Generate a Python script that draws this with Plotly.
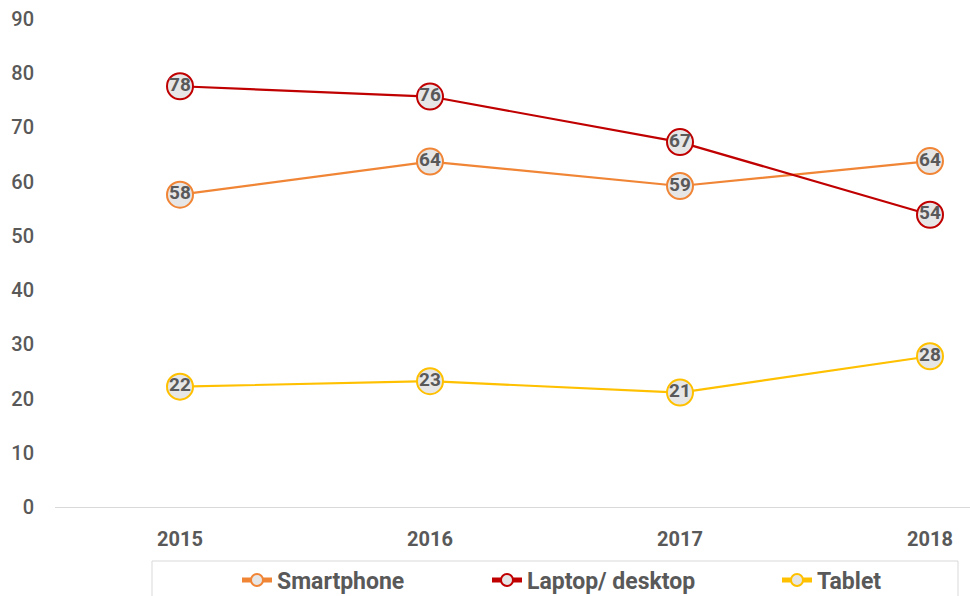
import plotly.graph_objects as go

years = ["2015", "2016", "2017", "2018"]
smartphone = [57.6, 63.7, 59.2, 63.8]
laptop = [77.6, 75.7, 67.3, 53.9]
tablet = [22.2, 23.2, 21.1, 27.8]
y_ticks = [0, 10, 20, 30, 40, 50, 60, 70, 80, 90]

series = [
    ("Smartphone", smartphone, "#F08536", "legend"),
    ("Laptop/ desktop", laptop, "#C00000", "legend2"),
    ("Tablet", tablet, "#FFC000", "legend3"),
]

TXT = "#595959"
FONT = "Roboto"

# layout geometry (px)
W, H = 970, 596
L, R, T, B = 55, 0, 19, 89
PW, PH = W - L - R, H - T - B

def px_x(p):
    return (p - L) / PW

def px_y(p):
    return (H - B - p) / PH

fig = go.Figure()
for name, vals, col, lg in series:
    fig.add_trace(go.Scatter(
        x=years, y=vals, name=name, mode="lines+markers",
        line=dict(color=col, width=2.2),
        marker=dict(size=26, color="#E7E6E6", line=dict(color=col, width=2)),
        legend=lg, cliponaxis=False,
    ))
for name, vals, col, lg in series:
    fig.add_trace(go.Scatter(
        x=years, y=vals, mode="text", showlegend=False,
        text=[f"{v:.0f}" for v in vals], textposition="middle center",
        textfont=dict(family=FONT, size=19, color=TXT, weight="bold"),
        cliponaxis=False, hoverinfo="skip",
    ))

leg_common = dict(orientation="h", yanchor="middle", xanchor="left",
                  bgcolor="rgba(0,0,0,0)", borderwidth=0, itemsizing="constant",
                  font=dict(family=FONT, size=23, color=TXT, weight="bold"))
legend_px = [237, 487, 777]
y_leg = px_y(580)

fig.update_layout(
    width=W, height=H,
    margin=dict(l=L, r=R, t=T, b=B, pad=0, autoexpand=False),
    paper_bgcolor="white", plot_bgcolor="white",
    showlegend=True,
    legend=dict(x=px_x(legend_px[0]), y=y_leg, **leg_common),
    legend2=dict(x=px_x(legend_px[1]), y=y_leg, **leg_common),
    legend3=dict(x=px_x(legend_px[2]), y=y_leg, **leg_common),
    xaxis=dict(type="category", range=[-0.5, 3.16], showgrid=False, zeroline=False,
               showline=True, linecolor="#D9D9D9", linewidth=1, ticks="",
               ticklabelstandoff=14,
               tickfont=dict(family=FONT, size=20, color=TXT, weight="bold")),
    yaxis=dict(range=[0, 90], tickvals=y_ticks, showgrid=False, zeroline=False,
               showline=False, ticks="", ticklabelstandoff=20,
               tickfont=dict(family=FONT, size=20, color=TXT, weight=500)),
    shapes=[dict(type="rect", xref="paper", yref="paper",
                 x0=px_x(152), x1=px_x(958), y0=px_y(561), y1=px_y(620),
                 line=dict(color="#D9D9D9", width=1), fillcolor="rgba(0,0,0,0)", layer="below")],
)

fig.write_html("out.html", config={"displayModeBar": False},
               post_script="document.body.style.margin='0';document.body.style.overflow='hidden';")
